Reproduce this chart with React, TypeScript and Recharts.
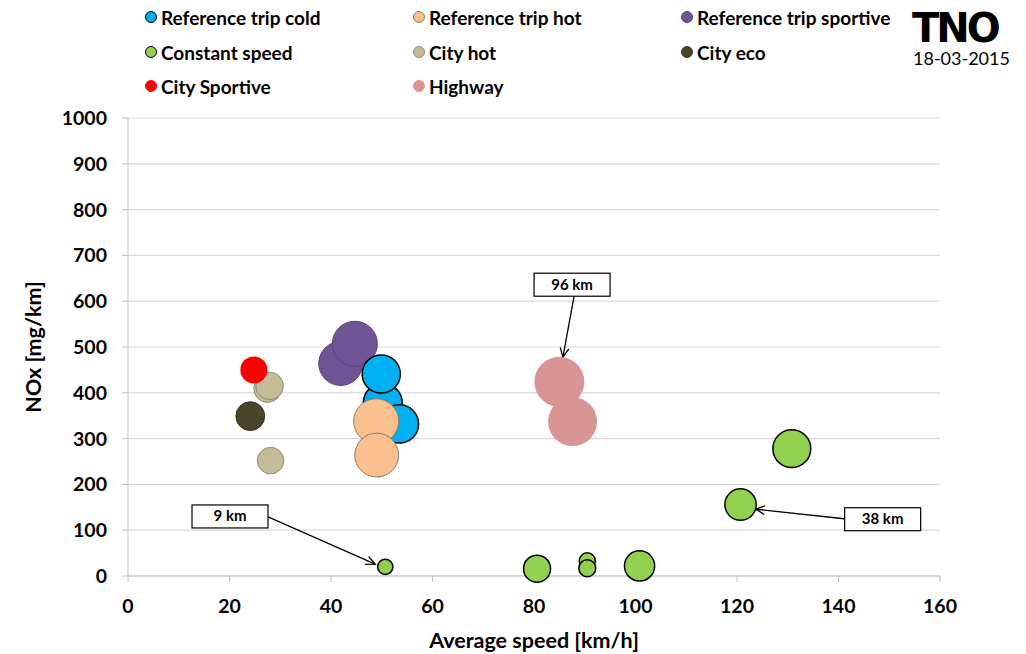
import React from 'react';
import {
  ScatterChart,
  Scatter,
  XAxis,
  YAxis,
  ZAxis,
  CartesianGrid,
  ReferenceLine,
  ReferenceDot,
} from 'recharts';

// ---- data (speed km/h, NOx mg/km, trip distance km -> bubble size) ----
const coldSpeed = [50.2, 49.9, 53.5];
const coldNox = [378, 441, 332];
const coldKm = [58, 56, 56];

const hotSpeed = [48.9, 49.0];
const hotNox = [338, 264];
const hotKm = [78, 74];

const sportiveSpeed = [41.9, 44.7];
const sportiveNox = [464, 507];
const sportiveKm = [74, 78];

const constantSpeed = [50.7, 80.6, 90.5, 90.5, 100.8, 120.7, 130.8];
const constantNox = [20, 16, 33, 17, 22, 156, 278];
const constantKm = [9, 28, 10, 11, 35, 38, 55];

const cityHotSpeed = [27.5, 27.9, 28.1];
const cityHotNox = [409, 415, 252];
const cityHotKm = [29, 29, 27];

const cityEcoSpeed = [24.1];
const cityEcoNox = [349];
const cityEcoKm = [32];

const citySportiveSpeed = [24.8];
const citySportiveNox = [450];
const citySportiveKm = [28];

const highwaySpeed = [85.0, 87.6];
const highwayNox = [424, 337];
const highwayKm = [96, 92];

const xTicks = [0, 20, 40, 60, 80, 100, 120, 140, 160];
const yTicks = [0, 100, 200, 300, 400, 500, 600, 700, 800, 900, 1000];

// annotations: label, box centre (speed, NOx), arrow from -> to
const annotLabels = ['96 km', '38 km', '9 km'];
const annotBoxSpeed = [87.5, 148.7, 20.1];
const annotBoxNox = [636, 124, 130];
const annotFromSpeed = [87.9, 141.1, 27.6];
const annotFromNox = [611, 125, 129];
const annotToSpeed = [85.7, 123.7, 48.7];
const annotToNox = [478, 146, 26];

const toPoints = (xs: number[], ys: number[], zs: number[]) =>
  xs.map((x, i) => ({ x, y: ys[i], z: zs[i] }));

const series = [
  { name: 'City hot', data: toPoints(cityHotSpeed, cityHotNox, cityHotKm), fill: '#C4BD97', stroke: '#8E8A73', sw: 1 },
  { name: 'City eco', data: toPoints(cityEcoSpeed, cityEcoNox, cityEcoKm), fill: '#4A452A', stroke: '#3A3620', sw: 1 },
  { name: 'City Sportive', data: toPoints(citySportiveSpeed, citySportiveNox, citySportiveKm), fill: '#FF0000', stroke: '#FF0000', sw: 0 },
  { name: 'Reference trip sportive', data: toPoints(sportiveSpeed, sportiveNox, sportiveKm), fill: '#705596', stroke: '#5A4478', sw: 1 },
  { name: 'Reference trip cold', data: toPoints(coldSpeed, coldNox, coldKm), fill: '#00B0F0', stroke: '#000000', sw: 1.5 },
  { name: 'Reference trip hot', data: toPoints(hotSpeed, hotNox, hotKm), fill: '#FAC090', stroke: '#8A7B6C', sw: 1 },
  { name: 'Highway', data: toPoints(highwaySpeed, highwayNox, highwayKm), fill: '#D99594', stroke: '#D99594', sw: 0 },
  { name: 'Constant speed', data: toPoints(constantSpeed, constantNox, constantKm), fill: '#92D050', stroke: '#000000', sw: 1.5 },
];

const legendRows = [
  ['Reference trip cold', 'Reference trip hot', 'Reference trip sportive'],
  ['Constant speed', 'City hot', 'City eco'],
  ['City Sportive', 'Highway'],
];

const FONT = 'Lato, "Open Sans", sans-serif';

const Arrow = (props: any) => {
  const { x1, y1, x2, y2 } = props;
  if ([x1, y1, x2, y2].some((v) => v == null || isNaN(v))) return null;
  const ang = Math.atan2(y2 - y1, x2 - x1);
  const L = 10;
  const a = 0.45;
  const p1 = `${x2 - L * Math.cos(ang - a)},${y2 - L * Math.sin(ang - a)}`;
  const p2 = `${x2 - L * Math.cos(ang + a)},${y2 - L * Math.sin(ang + a)}`;
  return (
    <g>
      <line x1={x1} y1={y1} x2={x2} y2={y2} stroke="#000" strokeWidth={1.3} />
      <polyline points={`${p1} ${x2},${y2} ${p2}`} fill="none" stroke="#000" strokeWidth={1.3} />
    </g>
  );
};

const makeBox = (label: string) => (props: any) => {
  const { cx, cy } = props;
  if (cx == null || cy == null) return null;
  return (
    <g>
      <rect x={cx - 38} y={cy - 11.5} width={76} height={23} fill="#fff" stroke="#000" strokeWidth={1.2} />
      <text x={cx} y={cy + 5} textAnchor="middle" fontFamily={FONT} fontWeight={700} fontSize={15} fill="#000">
        {label}
      </text>
    </g>
  );
};

export default function App() {
  const colX = [145, 413, 681];
  const rowY = [17, 52, 86];
  return (
    <div style={{ position: 'absolute', left: 0, top: 0, width: 1026, height: 654, background: '#fff', fontFamily: FONT }}>
      <ScatterChart width={1026} height={654} margin={{ top: 118, right: 86, bottom: 0, left: 0 }}>
        <CartesianGrid horizontal vertical={false} stroke="#D9D9D9" strokeWidth={1.2} />
        <XAxis
          dataKey="x"
          type="number"
          domain={[0, 160]}
          ticks={xTicks}
          height={78}
          tickSize={6}
          tickMargin={17}
          axisLine={{ stroke: '#BFBFBF' }}
          tickLine={{ stroke: '#BFBFBF' }}
          tick={{ fontSize: 19.5, fontWeight: 700, fill: '#000', fontFamily: FONT }}
          label={{ value: 'Average speed [km/h]', position: 'insideBottom', offset: 6, style: { fontSize: 21.5, fontWeight: 700, fill: '#000', fontFamily: FONT } }}
        />
        <YAxis
          dataKey="y"
          type="number"
          domain={[0, 1000]}
          ticks={yTicks}
          width={128}
          tickSize={6}
          tickMargin={15}
          axisLine={{ stroke: '#BFBFBF' }}
          tickLine={{ stroke: '#BFBFBF' }}
          tick={{ fontSize: 19.5, fontWeight: 700, fill: '#000', fontFamily: FONT }}
          label={{ value: 'NOx [mg/km]', angle: -90, position: 'insideLeft', offset: 33, style: { textAnchor: 'middle', fontSize: 21.5, fontWeight: 700, fill: '#000', fontFamily: FONT } }}
        />
        <ZAxis dataKey="z" type="number" domain={[0, 100]} range={[0, 2043]} />
        {series.map((s) => (
          <Scatter
            key={s.name}
            name={s.name}
            data={s.data}
            fill={s.fill}
            stroke={s.stroke}
            strokeWidth={s.sw}
            isAnimationActive={false}
          />
        ))}
        {annotLabels.map((lab, i) => (
          <ReferenceLine
            key={'a' + i}
            segment={[
              { x: annotFromSpeed[i], y: annotFromNox[i] },
              { x: annotToSpeed[i], y: annotToNox[i] },
            ]}
            ifOverflow="visible"
            shape={Arrow}
          />
        ))}
        {annotLabels.map((lab, i) => (
          <ReferenceDot
            key={'b' + i}
            x={annotBoxSpeed[i]}
            y={annotBoxNox[i]}
            ifOverflow="visible"
            shape={makeBox(lab)}
          />
        ))}
      </ScatterChart>

      {legendRows.map((row, r) =>
        row.map((name, c) => {
          const s = series.find((q) => q.name === name)!;
          return (
            <div
              key={name}
              style={{
                position: 'absolute',
                left: colX[c],
                top: rowY[r] - 12,
                height: 24,
                display: 'flex',
                alignItems: 'center',
                whiteSpace: 'nowrap',
                fontSize: 19,
                fontWeight: 700,
                color: '#000',
              }}
            >
              <span
                style={{
                  display: 'inline-block',
                  width: 10,
                  height: 10,
                  borderRadius: '50%',
                  background: s.fill,
                  border: s.sw > 0 ? `1px solid ${s.stroke}` : '1px solid ' + s.fill,
                  marginRight: 4,
                }}
              />
              {name}
            </div>
          );
        })
      )}

      <div
        style={{
          position: 'absolute',
          left: 912,
          top: 9,
          fontFamily: '"DejaVu Sans", sans-serif',
          fontWeight: 900,
          fontSize: 40,
          letterSpacing: -3,
          lineHeight: '38px',
          color: '#000',
        }}
      >
        TNO
      </div>
      <div style={{ position: 'absolute', left: 913, top: 48, fontSize: 18, color: '#000', lineHeight: '20px' }}>
        18-03-2015
      </div>
    </div>
  );
}
